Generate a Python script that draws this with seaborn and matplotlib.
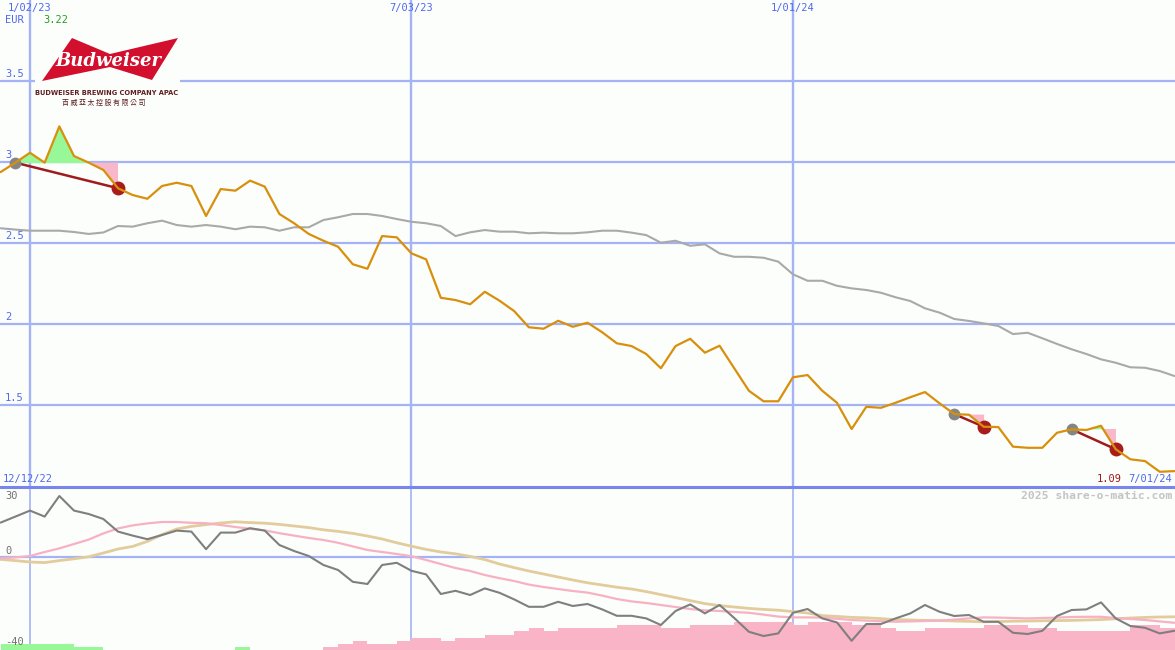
import numpy as np
import pandas as pd
import matplotlib
matplotlib.use("Agg")
import matplotlib.pyplot as plt
from matplotlib.patches import Polygon, Rectangle
from matplotlib.lines import Line2D
import seaborn as sns

# ---------------- data (weekly) ----------------
dates = pd.date_range("2022-12-19", "2024-07-01", freq="7D")

price = [2.938, 2.996, 3.057, 2.996, 3.22, 3.037, 2.996, 2.951, 2.838, 2.796,
         2.773, 2.852, 2.872, 2.852, 2.667, 2.833, 2.823, 2.885, 2.848, 2.679,
         2.622, 2.556, 2.514, 2.477, 2.369, 2.341, 2.543, 2.535, 2.436, 2.399,
         2.162, 2.148, 2.122, 2.199, 2.144, 2.080, 1.980, 1.971, 2.020, 1.983,
         2.008, 1.949, 1.881, 1.864, 1.815, 1.727, 1.864, 1.909, 1.823, 1.866,
         1.727, 1.588, 1.523, 1.523, 1.671, 1.685, 1.588, 1.514, 1.352, 1.489,
         1.483, 1.514, 1.548, 1.580, 1.510, 1.444, 1.440, 1.366, 1.364, 1.243,
         1.236, 1.236, 1.329, 1.350, 1.346, 1.372, 1.227, 1.165, 1.154, 1.088,
         1.092]

moving_avg = [2.591, 2.583, 2.576, 2.576, 2.576, 2.568, 2.556, 2.565, 2.605, 2.601,
              2.622, 2.638, 2.611, 2.601, 2.611, 2.601, 2.585, 2.601, 2.597, 2.576,
              2.597, 2.597, 2.642, 2.659, 2.679, 2.679, 2.667, 2.648, 2.631, 2.622,
              2.605, 2.543, 2.566, 2.580, 2.570, 2.570, 2.560, 2.564, 2.560, 2.560,
              2.566, 2.576, 2.576, 2.564, 2.549, 2.502, 2.514, 2.483, 2.492, 2.436,
              2.415, 2.415, 2.409, 2.385, 2.307, 2.267, 2.267, 2.236, 2.220, 2.210,
              2.193, 2.165, 2.142, 2.097, 2.070, 2.031, 2.019, 2.004, 1.988, 1.938,
              1.946, 1.912, 1.877, 1.844, 1.815, 1.782, 1.761, 1.733, 1.730, 1.710,
              1.679]

momentum = [17.2, 20.2, 23.2, 20.2, 30.5, 23.2, 21.5, 19.0, 12.7, 10.7,
            8.9, 11.0, 13.2, 12.7, 3.9, 12.2, 12.2, 14.4, 13.2, 6.0,
            3.0, 0.5, -4.0, -6.5, -12.4, -13.5, -4.0, -2.9, -6.9, -8.7,
            -18.5, -16.9, -19.0, -15.7, -17.9, -21.2, -24.9, -24.9, -22.4, -24.5,
            -23.5, -26.2, -29.4, -29.4, -30.7, -34.0, -27.0, -23.7, -28.2, -24.0,
            -30.5, -37.4, -39.5, -38.2, -27.9, -26.0, -30.7, -32.7, -41.9, -33.5,
            -33.5, -30.7, -28.2, -24.0, -27.4, -29.5, -29.0, -32.4, -32.4, -37.9,
            -38.5, -36.9, -29.5, -26.5, -26.2, -22.7, -30.7, -34.5, -35.4, -38.2,
            -36.9]

signal_line = [-0.7, -0.2, 0.5, 2.5, 4.3, 6.5, 8.7, 11.8, 14.3, 15.8,
               16.8, 17.5, 17.5, 17.1, 16.9, 16.0, 15.0, 14.1, 13.3, 11.9,
               10.7, 9.5, 8.5, 7.1, 5.3, 3.5, 2.5, 1.5, 0.4, -1.5,
               -3.5, -5.5, -7.0, -9.0, -10.6, -12.0, -13.8, -15.0, -16.0, -17.0,
               -17.8, -19.3, -21.0, -22.2, -23.0, -24.0, -25.0, -26.0, -26.7, -27.0,
               -27.5, -27.9, -28.8, -29.8, -30.2, -30.2, -30.3, -30.9, -31.5, -31.8,
               -32.1, -32.4, -32.2, -32.0, -31.8, -31.3, -30.7, -30.2, -30.3, -30.5,
               -30.7, -30.5, -30.3, -30.0, -29.9, -29.9, -30.5, -31.0, -31.5, -32.2,
               -32.9]

slow_line = [-1.2, -1.8, -2.5, -2.8, -1.8, -0.9, 0.1, 2.0, 4.0, 5.3,
             7.8, 11.2, 14.0, 15.3, 16.2, 17.0, 17.6, 17.2, 16.9, 16.3,
             15.5, 14.7, 13.6, 12.8, 11.8, 10.5, 9.0, 7.1, 5.4, 3.8,
             2.5, 1.6, 0.3, -1.3, -3.5, -5.3, -7.0, -8.5, -10.0, -11.5,
             -12.9, -14.0, -15.1, -16.0, -17.3, -18.8, -20.3, -21.8, -23.3, -24.3,
             -25.0, -25.7, -26.2, -26.6, -27.3, -28.0, -29.3, -29.7, -30.2, -30.4,
             -30.8, -31.3, -31.5, -31.7, -31.8, -32.0, -32.2, -32.4, -32.3, -32.1,
             -32.0, -31.9, -31.8, -31.7, -31.5, -31.3, -30.9, -30.5, -30.2, -30.0,
             -29.9]

histogram = [3, 3, 3, 3, 3, 1.5, 1.5, 0, 0, 0,
             0, 0, 0, 0, 0, 0, 1.5, 0, 0, 0,
             0, 0, -1.5, -3, -4.5, -3, -3, -4.5, -6, -6,
             -4.5, -6, -6, -7.5, -7.5, -9.5, -11, -9.5, -11, -11,
             -11, -11, -12.5, -12.5, -12.5, -11, -11, -12.5, -12.5, -12.5,
             -14, -14, -14, -14, -12.5, -14, -14, -14, -12.5, -12.5,
             -11, -9.5, -9.5, -11, -11, -11, -11, -12.5, -12.5, -12.5,
             -11, -11, -9.5, -9.5, -9.5, -9.5, -9.5, -12.5, -12.5, -11,
             -11]

signal_start = ["2022-12-26", "2024-03-18", "2024-05-13"]
signal_end = ["2023-02-13", "2024-04-01", "2024-06-03"]

vline_dates = ["2023-01-02", "2023-07-03", "2024-01-01"]
vline_labels = ["1/02/23", "7/03/23", "1/01/24"]
price_levels = [3.5, 3.0, 2.5, 2.0, 1.5]
osc_labels = ["30", "0", "-40"]

df = pd.DataFrame({"date": dates, "price": price, "ma": moving_avg,
                   "mom": momentum, "sig": signal_line, "slow": slow_line,
                   "hist": histogram})

# ---------------- style ----------------
sns.set_style("white")
plt.rcParams['font.family'] = ['DejaVu Sans Mono', 'DejaVu Sans']

BG = '#fcfefc'
GRID = '#a3b3f5'
BLUE = '#4f68ee'
W, H = 1175, 650

fig = plt.figure(figsize=(W / 100, H / 100), dpi=100, facecolor=BG)
ax1 = fig.add_axes([0, 163 / H, 1, 487 / H])
ax2 = fig.add_axes([0, 0, 1, 163 / H])

xmin = pd.Timestamp("2022-12-19") - pd.Timedelta(hours=7.5)
xmax = pd.Timestamp("2024-07-01") + pd.Timedelta(hours=7)
Y1 = (0.994, 4.0)
Y2 = (-46.5, 35.0)

# ---------------- top panel ----------------
for v in price_levels:
    ax1.axhline(v, color=GRID, lw=1.6, zorder=1)
for d in vline_dates:
    ax1.axvline(pd.Timestamp(d), color=GRID, lw=1.7, zorder=1)

sns.lineplot(data=df, x="date", y="ma", ax=ax1, color='#a9a9a9', lw=1.5,
             zorder=3, legend=False)

for s, e in zip(signal_start, signal_end):
    m = (df["date"] >= s) & (df["date"] <= e)
    xs = df["date"][m].values
    ys = df["price"][m].values
    lvl = ys[0]
    ax1.fill_between(xs, lvl, ys, where=ys >= lvl, interpolate=True,
                     color='#98f898', lw=0, zorder=2)
    ax1.fill_between(xs, lvl, ys, where=ys <= lvl, interpolate=True,
                     color='#f9b8c9', lw=0, zorder=2)
    ax1.plot([xs[0], xs[-1]], [ys[0], ys[-1]], color='#a01c1c', lw=1.8, zorder=4)
    ax1.plot([xs[0]], [ys[0]], 'o', color='#858585', ms=8.5, mew=0, zorder=4)
    ax1.plot([xs[-1]], [ys[-1]], 'o', color='#a81c1c', ms=10, mew=0, zorder=4)

sns.lineplot(data=df, x="date", y="price", ax=ax1, color='#d8900c', lw=1.6,
             zorder=5, legend=False)

ax1.set_xlim(xmin, xmax)
ax1.set_ylim(*Y1)
ax1.axis('off')

xt = ax1.get_xaxis_transform()
yt = ax1.get_yaxis_transform()
for d, lab in zip(vline_dates, vline_labels):
    ax1.text(pd.Timestamp(d), 1 - 8 / 487, lab, transform=xt, ha='center',
             va='center', color=BLUE, fontsize=7.5)
ax1.text(5 / W, 1 - 20 / 487, "EUR", transform=ax1.transAxes, ha='left',
         va='center', color=BLUE, fontsize=7.5)
ax1.text(43 / W, 1 - 20 / 487, f"{max(price):.2f}", transform=ax1.transAxes,
         ha='left', va='center', color='#22a022', fontsize=7.5)
for v in price_levels:
    ax1.text(5 / W, v + 0.012, f"{v:g}", transform=yt, ha='left', va='bottom',
             color=BLUE, fontsize=7.5)
ax1.text(3 / W, 1 - 479 / 487, "12/12/22", transform=ax1.transAxes, ha='left',
         va='center', color=BLUE, fontsize=7.5)
ax1.text(1122 / W, 1 - 479 / 487, f"{price[-1]:.2f}", transform=ax1.transAxes,
         ha='right', va='center', color='#a01818', fontsize=7.5)
ax1.text(1172 / W, 1 - 479 / 487, "7/01/24", transform=ax1.transAxes,
         ha='right', va='center', color=BLUE, fontsize=7.5)

# logo
def P(x, y):
    return (x / W, 1 - y / H)

ax1.add_patch(Rectangle(P(35, 110), 145 / W, 82 / H, transform=fig.transFigure,
                        color=BG, lw=0, zorder=6))
ax1.add_patch(Polygon([P(72, 38), P(110, 54), P(178, 38), P(152, 80),
                       P(110, 67), P(42, 81)], closed=True,
                      transform=fig.transFigure, color='#d2102e', lw=0, zorder=7))
fig.text(*P(108, 61), "Budweiser", ha='center', va='center', color='white',
         fontsize=13, family='DejaVu Serif', style='italic', weight='bold',
         zorder=8)
fig.text(*P(106.5, 93), "BUDWEISER BREWING COMPANY APAC", ha='center',
         va='center', color='#5c1e1e', fontsize=4.8, family='DejaVu Sans',
         weight='bold', zorder=8)
fig.text(*P(104, 103), "百 威 亞 太 控 股 有 限 公 司", ha='center', va='center',
         color='#5c1e1e', fontsize=5, family=['Noto Sans CJK TC', 'DejaVu Sans'],
         zorder=8)

# ---------------- lower panel ----------------
ax2.axhline(0, color=GRID, lw=1.6, zorder=1)
for d in vline_dates:
    ax2.axvline(pd.Timestamp(d), color=GRID, lw=1.2, zorder=1)

hist = np.array(histogram)
ax2.bar(df["date"], np.abs(hist), width=7, align='edge', bottom=Y2[0],
        color=['#98f898' if h > 0 else '#f9b4c8' for h in hist], lw=0, zorder=2)

sns.lineplot(data=df, x="date", y="slow", ax=ax2, color='#e2cc9c', lw=2.0,
             zorder=3, legend=False)
sns.lineplot(data=df, x="date", y="sig", ax=ax2, color='#f7b1c3', lw=1.6,
             zorder=3, legend=False)
sns.lineplot(data=df, x="date", y="mom", ax=ax2, color='#7f7f7f', lw=1.5,
             zorder=4, legend=False)

ax2.set_xlim(xmin, xmax)
ax2.set_ylim(*Y2)
ax2.axis('off')

for lab, yp in zip(osc_labels, [496, 551, 642]):
    ax2.text(5 / W, 1 - (yp - 487) / 163, lab, transform=ax2.transAxes,
             ha='left', va='center', color='#707070', fontsize=7.5)
ax2.text(1172 / W, 1 - 9 / 163, "2025 share-o-matic.com", transform=ax2.transAxes,
         ha='right', va='center', color='#c4c4c4', fontsize=8.2, weight='bold')

fig.add_artist(Line2D([0, 1], [163 / H, 163 / H], transform=fig.transFigure,
                      color='#7686ec', lw=2.2, zorder=10))

fig.savefig("out.png", dpi=100, facecolor=BG)
